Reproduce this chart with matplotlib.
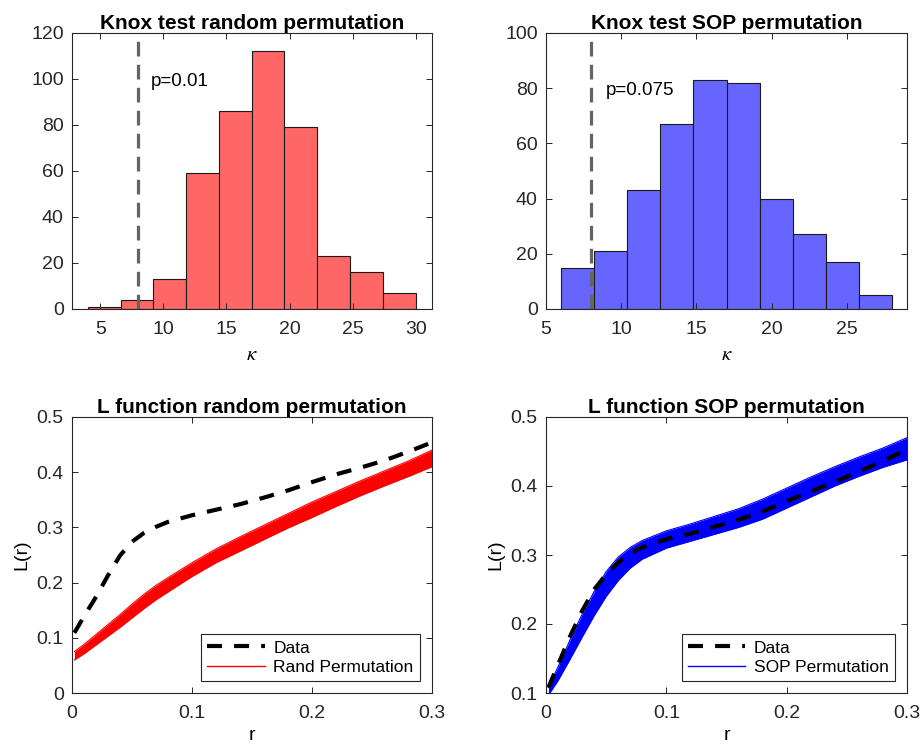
import matplotlib
matplotlib.use("Agg")
import matplotlib.pyplot as plt
from matplotlib.lines import Line2D

plt.rcParams['font.family'] = ['Liberation Sans', 'DejaVu Sans']
plt.rcParams['mathtext.fontset'] = 'stix'

# Knox statistic histograms (400 permutations each)
rand_edges = [4.0, 6.6, 9.2, 11.8, 14.4, 17.0, 19.6, 22.2, 24.8, 27.4, 30.0]
rand_counts = [1, 4, 13, 59, 86, 112, 79, 23, 16, 7]
sop_edges = [6.0, 8.2, 10.4, 12.6, 14.8, 17.0, 19.2, 21.4, 23.6, 25.8, 28.0]
sop_counts = [15, 21, 43, 67, 83, 82, 40, 27, 17, 5]
kappa_obs = 8
p_rand = "p=0.01"
p_sop = "p=0.075"

# L function of the data and envelope of the permutation curves
r = [0.002, 0.01, 0.02, 0.03, 0.04, 0.05, 0.06, 0.07, 0.08, 0.10,
     0.12, 0.14, 0.16, 0.18, 0.20, 0.22, 0.24, 0.26, 0.28, 0.30]
L_data_rand = [0.109, 0.139, 0.174, 0.213, 0.249, 0.274, 0.290, 0.301, 0.310, 0.322,
               0.332, 0.342, 0.354, 0.367, 0.382, 0.396, 0.408, 0.421, 0.437, 0.454]
rand_hi = [0.075, 0.088, 0.106, 0.124, 0.142, 0.161, 0.179, 0.195, 0.209, 0.236,
           0.261, 0.283, 0.304, 0.325, 0.346, 0.365, 0.384, 0.402, 0.420, 0.440]
rand_lo = [0.060, 0.071, 0.087, 0.103, 0.119, 0.136, 0.153, 0.169, 0.183, 0.211,
           0.236, 0.257, 0.278, 0.299, 0.318, 0.338, 0.357, 0.375, 0.392, 0.410]
L_data_sop = [0.108, 0.141, 0.182, 0.219, 0.250, 0.272, 0.289, 0.302, 0.311, 0.323,
              0.331, 0.341, 0.351, 0.363, 0.378, 0.392, 0.406, 0.421, 0.436, 0.453]
sop_hi = [0.108, 0.138, 0.177, 0.214, 0.247, 0.276, 0.297, 0.311, 0.321, 0.335,
          0.345, 0.356, 0.367, 0.381, 0.397, 0.413, 0.428, 0.442, 0.455, 0.470]
sop_lo = [0.097, 0.118, 0.149, 0.181, 0.212, 0.240, 0.263, 0.281, 0.294, 0.310,
          0.320, 0.330, 0.340, 0.352, 0.368, 0.384, 0.400, 0.414, 0.427, 0.438]

W, H = 921, 746
fig = plt.figure(figsize=(W / 100, H / 100), dpi=100)


def box(x0, y0, x1, y1):
    return [x0 / W, 1 - y1 / H, (x1 - x0) / W, (y1 - y0) / H]


ax1 = fig.add_axes(box(72, 33, 432, 309))
ax2 = fig.add_axes(box(546, 33, 907, 309))
ax3 = fig.add_axes(box(72, 417, 432, 693))
ax4 = fig.add_axes(box(546, 417, 907, 693))

grey = '#262626'
for ax in (ax1, ax2, ax3, ax4):
    ax.tick_params(direction='in', length=4, width=0.7, labelsize=14,
                   colors=grey, top=True, right=True, pad=6)
    ax.tick_params(axis='x', pad=9)
    for s in ax.spines.values():
        s.set_color(grey)
        s.set_linewidth(0.8)


def knox(ax, edges, counts, color, ptxt, ymax, ptxt_y, title):
    widths = [b - a for a, b in zip(edges[:-1], edges[1:])]
    ax.bar(edges[:-1], counts, width=widths, align='edge', color=color,
           edgecolor='#1a1a1a', linewidth=0.8)
    ax.axvline(kappa_obs, color='#646464', lw=2.3, dashes=(4.6, 2.6))
    ax.text(9.0, ptxt_y, ptxt, fontsize=13.5, va='center', ha='left')
    ax.set_ylim(0, ymax)
    ax.set_xlabel(r'$\kappa$', fontsize=15, labelpad=5)
    ax.set_title(title, fontsize=15, fontweight='bold', pad=3)


knox(ax1, rand_edges, rand_counts, '#ff6666', p_rand, 120, 99,
     'Knox test random permutation')
ax1.set_xlim(2.75, 31.3)
ax1.set_xticks([5, 10, 15, 20, 25, 30])
ax1.set_yticks(range(0, 121, 20))

knox(ax2, sop_edges, sop_counts, '#6666ff', p_sop, 100, 79,
     'Knox test SOP permutation')
ax2.set_xlim(5, 29)
ax2.set_xticks([5, 10, 15, 20, 25])
ax2.set_yticks(range(0, 101, 20))


def lfunc(ax, data, lo, hi, color, label, ylim, title):
    ax.fill_between(r, lo, hi, color=color, lw=0)
    ax.plot(r, lo, color=color, lw=0.8)
    ax.plot(r, hi, color=color, lw=0.8)
    ax.plot(r, data, color='black', lw=3, dashes=(3.6, 2.9))
    handles = [Line2D([], [], color='black', lw=3, dashes=(3.6, 2.9)),
               Line2D([], [], color=color, lw=1)]
    leg = ax.legend(handles, ['Data', label], loc='lower right',
                    bbox_to_anchor=(0.966, 0.043), borderaxespad=0,
                    fancybox=False, framealpha=1, edgecolor=grey,
                    fontsize=12.5, handlelength=3.3, handletextpad=0.5,
                    labelspacing=0.25, borderpad=0.35)
    leg.get_frame().set_linewidth(0.8)
    ax.set_xlim(0, 0.3)
    ax.set_ylim(*ylim)
    ax.set_xticks([0, 0.1, 0.2, 0.3])
    ax.set_xticklabels(['0', '0.1', '0.2', '0.3'])
    ax.set_xlabel('r', fontsize=14, labelpad=3)
    ax.set_ylabel('L(r)', fontsize=14, labelpad=4)
    ax.set_title(title, fontsize=15, fontweight='bold', pad=3)


lfunc(ax3, L_data_rand, rand_lo, rand_hi, 'red', 'Rand Permutation',
      (0, 0.5), 'L function random permutation')
ax3.set_yticks([0, 0.1, 0.2, 0.3, 0.4, 0.5])
ax3.set_yticklabels(['0', '0.1', '0.2', '0.3', '0.4', '0.5'])

lfunc(ax4, L_data_sop, sop_lo, sop_hi, 'blue', 'SOP Permutation',
      (0.1, 0.5), 'L function SOP permutation')
ax4.set_yticks([0.1, 0.2, 0.3, 0.4, 0.5])

fig.savefig('out.png', dpi=100)
